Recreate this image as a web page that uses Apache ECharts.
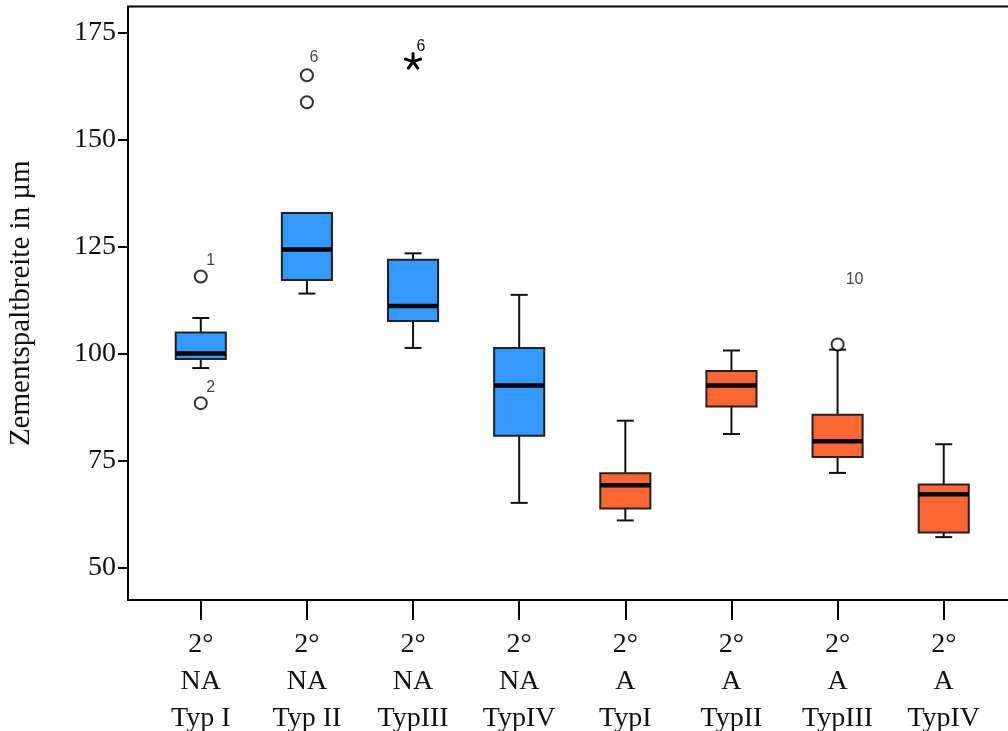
<!DOCTYPE html>
<html>
<head>
<meta charset="utf-8">
<script src="https://cdn.jsdelivr.net/npm/echarts@6/dist/echarts.min.js"></script>
<style>
  html, body { margin: 0; padding: 0; background: #fff; }
  #chart { width: 1008px; height: 731px; }
</style>
</head>
<body>
<div id="chart"></div>
<script>
// categories (bottom axis)
var categories = ['2°\nNA\nTyp I', '2°\nNA\nTyp II', '2°\nNA\nTypIII', '2°\nNA\nTypIV',
                  '2°\nA\nTypI', '2°\nA\nTypII', '2°\nA\nTypIII', '2°\nA\nTypIV'];
// group of each box: 0 = NA (blue), 1 = A (orange)
var groups = [0, 0, 0, 0, 1, 1, 1, 1];
// [lower whisker, Q1, median, Q3, upper whisker]
var boxValues = [
  [96.6, 98.7, 100.0, 104.9, 108.3],
  [114.0, 117.2, 124.3, 132.8, 132.8],
  [101.3, 107.6, 111.1, 121.9, 123.4],
  [65.1, 80.8, 92.5, 101.3, 113.7],
  [61.0, 63.8, 69.2, 72.0, 84.3],
  [81.2, 87.6, 92.5, 95.9, 100.7],
  [72.1, 75.8, 79.5, 85.7, 100.9],
  [57.1, 58.2, 67.1, 69.4, 78.8]
];
// outliers: [category index, value, case label]
var outliers = [
  [0, 118.0, '1'],
  [0, 88.4, '2'],
  [1, 165.0, '6'],
  [1, 158.7, ''],
  [6, 102.1, '10']
];
// extremes (star): [category index, value, case label]
var extremes = [
  [2, 168.2, '6']
];
var yTicks = [50, 75, 100, 125, 150, 175];

var colors = ['#3399ff', '#ff6633'];
var yMin = 42.41, yMax = 181.07;

var chart = echarts.init(document.getElementById('chart'));

var sans = 'Liberation Sans, Arial, sans-serif';
var serif = 'Liberation Serif, Times New Roman, serif';

function renderBox(params, api) {
  var x = api.value(0);
  var band = api.size([1, 0])[0];
  var half = band * 0.236;
  var cap = 8.5;
  var pLow = api.coord([x, api.value(1)]);
  var pQ1 = api.coord([x, api.value(2)]);
  var pMed = api.coord([x, api.value(3)]);
  var pQ3 = api.coord([x, api.value(4)]);
  var pHigh = api.coord([x, api.value(5)]);
  var cx = pMed[0];
  var col = colors[api.value(6)];
  var line = { stroke: '#111', lineWidth: 2 };
  return {
    type: 'group',
    children: [
      { type: 'line', shape: { x1: cx, y1: pHigh[1], x2: cx, y2: pQ3[1] }, style: line },
      { type: 'line', shape: { x1: cx, y1: pLow[1], x2: cx, y2: pQ1[1] }, style: line },
      { type: 'line', shape: { x1: cx - cap, y1: pHigh[1], x2: cx + cap, y2: pHigh[1] }, style: line },
      { type: 'line', shape: { x1: cx - cap, y1: pLow[1], x2: cx + cap, y2: pLow[1] }, style: line },
      { type: 'rect', shape: { x: cx - half, y: pQ3[1], width: half * 2, height: pQ1[1] - pQ3[1] },
        style: { fill: col, stroke: '#222', lineWidth: 2 } },
      { type: 'line', shape: { x1: cx - half, y1: pMed[1], x2: cx + half, y2: pMed[1] },
        style: { stroke: '#000', lineWidth: 4.5 } }
    ]
  };
}

function renderStar(params, api) {
  var p = api.coord([api.value(0), api.value(1)]);
  var r = 8;
  var kids = [];
  for (var i = 0; i < 5; i++) {
    var a = (-90 + i * 72) * Math.PI / 180;
    kids.push({ type: 'line', shape: { x1: p[0], y1: p[1], x2: p[0] + r * Math.cos(a), y2: p[1] + r * Math.sin(a) },
      style: { stroke: '#000', lineWidth: 3, lineCap: 'round' } });
  }
  kids.push({
    type: 'text', x: p[0] + 8, y: p[1] - 15,
    style: { text: extremes[params.dataIndex][2], font: '16px ' + sans, fill: '#111',
      textAlign: 'center', textVerticalAlign: 'middle' }
  });
  return { type: 'group', children: kids };
}

var boxData = boxValues.map(function (b, i) {
  return [i].concat(b).concat([groups[i]]);
});

var caseLabel = {
  show: true,
  position: 'top',
  fontFamily: sans,
  fontSize: 16,
  color: '#111'
};

var outlierData = outliers.map(function (o) {
  var off = o[2] === '10' ? [17, -45] : (o[2] === '6' ? [7, 2] : [10, 4]);
  return {
    value: [o[0], o[1]],
    label: Object.assign({}, caseLabel, { formatter: o[2], offset: off })
  };
});

var extremeData = extremes.map(function (o) {
  return [o[0], o[1]];
});

chart.setOption({
  animation: false,
  backgroundColor: '#fff',
  grid: [
    { left: 128, top: 6.5, right: -20, bottom: 131, show: true, borderColor: '#000', borderWidth: 2,
      backgroundColor: 'transparent', outerBoundsMode: 'none' },
    { left: 147.7, top: 6.5, right: 11.2, bottom: 131, show: false, outerBoundsMode: 'none' }
  ],
  xAxis: [
    { type: 'value', gridIndex: 0, min: 0, max: 1, show: false },
    {
      type: 'category', gridIndex: 1, data: categories, boundaryGap: true,
      axisLine: { show: false },
      axisTick: { show: true, alignWithLabel: true, length: 20, lineStyle: { color: '#000', width: 2 } },
      axisLabel: { interval: 0, margin: 26, fontFamily: serif, fontSize: 28, lineHeight: 37, color: '#111' },
      splitLine: { show: false }
    }
  ],
  yAxis: [
    {
      type: 'value', gridIndex: 0, min: yMin, max: yMax,
      name: 'Zementspaltbreite in µm', nameLocation: 'middle', nameGap: 92,
      nameTextStyle: { fontFamily: serif, fontSize: 29, color: '#111' },
      axisLine: { show: false },
      axisTick: { show: true, length: 10, customValues: yTicks, lineStyle: { color: '#000', width: 2 } },
      axisLabel: { customValues: yTicks, margin: 12, fontFamily: serif, fontSize: 28, color: '#111' },
      splitLine: { show: false }
    },
    { type: 'value', gridIndex: 1, min: yMin, max: yMax, show: false }
  ],
  series: [
    {
      type: 'custom', xAxisIndex: 1, yAxisIndex: 1,
      renderItem: renderBox, data: boxData,
      encode: { x: 0, y: [1, 2, 3, 4, 5] }
    },
    {
      type: 'scatter', xAxisIndex: 1, yAxisIndex: 1,
      symbol: 'emptyCircle', symbolSize: 12,
      itemStyle: { color: '#000', borderColor: '#000', borderWidth: 2.6 },
      data: outlierData
    },
    {
      type: 'custom', xAxisIndex: 1, yAxisIndex: 1,
      renderItem: renderStar, data: extremeData,
      encode: { x: 0, y: 1 }
    }
  ]
});
</script>
</body>
</html>
